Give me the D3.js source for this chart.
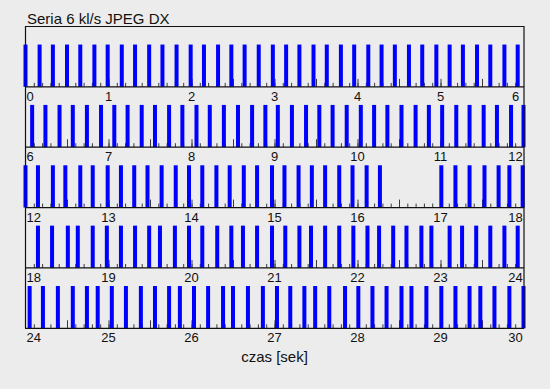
<!DOCTYPE html>
<html>
<head>
<meta charset="utf-8">
<script src="https://cdn.jsdelivr.net/npm/d3@7"></script>
<style>
  body { margin: 0; background: #ececec; }
  svg { display: block; font-family: "Liberation Sans", Arial, sans-serif; }
</style>
</head>
<body>
<div id="chart"></div>
<script>
const title = 'Seria 6 kl/s JPEG DX';
const xTitle = 'czas [sek]';

// one row = 6 seconds
const rowStarts = [0, 6, 12, 18, 24];
const rowSpan = 6;

// frame times in seconds
const frames0 = [0.00, 0.17, 0.33, 0.50, 0.66, 0.83, 0.99, 1.16, 1.32, 1.49, 1.65, 1.82,
  1.99, 2.15, 2.32, 2.48, 2.64, 2.81, 2.98, 3.14, 3.30, 3.47, 3.63, 3.80, 3.96, 4.13,
  4.29, 4.45, 4.62, 4.78, 4.95, 5.11, 5.27, 5.44, 5.60, 5.77, 5.93];
const frames1 = [6.08, 6.24, 6.41, 6.57, 6.74, 6.91, 7.07, 7.23, 7.40, 7.56, 7.73, 7.89,
  8.06, 8.22, 8.39, 8.56, 8.73, 8.89, 9.04, 9.21, 9.38, 9.54, 9.70, 9.87, 10.04, 10.20,
  10.36, 10.53, 10.70, 10.86, 11.02, 11.19, 11.35, 11.52, 11.68, 11.85, 12.00];
const frames2 = [12.00, 12.15, 12.33, 12.48, 12.66, 12.81, 12.99, 13.15, 13.31, 13.47,
  13.64, 13.81, 13.97, 14.13, 14.30, 14.46, 14.63, 14.79, 14.97, 15.12, 15.29, 15.45,
  15.61, 15.78, 15.94, 16.11, 16.27, 17.01, 17.18, 17.35, 17.53, 17.70, 17.83, 17.99];
const frames3 = [18.15, 18.32, 18.51, 18.63, 18.81, 18.98, 19.15, 19.32, 19.49, 19.62,
  19.80, 19.97, 20.13, 20.31, 20.48, 20.62, 20.79, 20.97, 21.13, 21.30, 21.44, 21.61,
  21.78, 21.95, 22.12, 22.26, 22.43, 22.59, 22.77, 22.89, 23.11, 23.26, 23.43, 23.60,
  23.77, 23.93];
const frames4 = [24.05, 24.21, 24.39, 24.57, 24.74, 24.87, 25.04, 25.21, 25.39, 25.56,
  25.73, 25.86, 26.03, 26.20, 26.38, 26.50, 26.68, 26.86, 27.03, 27.19, 27.36, 27.49,
  27.66, 27.85, 28.01, 28.18, 28.35, 28.53, 28.65, 28.83, 29.01, 29.18, 29.35, 29.48,
  29.65, 29.83, 30.00];
const frameRows = [frames0, frames1, frames2, frames3, frames4];

const width = 550;
const height = 389;
const plotLeft = 25.5, plotRight = 523.5, plotTop = 26.5, plotBottom = 328.3;
const barHeight = 42.3;
const barWidth = 4;

const svg = d3.select('#chart')
    .append('svg')
    .attr('width', width)
    .attr('height', height);

svg.append('rect')
    .attr('width', width)
    .attr('height', height)
    .attr('fill', '#ececec');

const rowScale = d3.scaleLinear()
    .domain([0, rowStarts.length])
    .range([plotTop, plotBottom]);

rowStarts.forEach((start, r) => {
    const x = d3.scaleLinear()
        .domain([start, start + rowSpan])
        .range([plotLeft, plotRight]);
    const base = rowScale(r + 1);
    const y = d3.scaleLinear()
        .domain([0, 1])
        .range([base, base - barHeight]);

    const row = svg.append('g');

    // minor ticks every 0.1 s, bigger every 0.5 s
    const minor = d3.range(1, rowSpan * 10).map(i => start + i / 10);
    const major = d3.range(1, rowSpan * 2).map(i => start + i / 2);

    row.append('g')
        .attr('transform', `translate(0,${base})`)
        .call(d3.axisTop(x).tickValues(minor).tickSize(4).tickFormat(''))
        .call(g => g.select('.domain').remove())
        .call(g => g.selectAll('line').attr('stroke', '#3a3a3a'));

    row.append('g')
        .attr('transform', `translate(0,${base})`)
        .call(d3.axisTop(x).tickValues(major).tickSize(8).tickFormat(''))
        .call(g => g.select('.domain').remove())
        .call(g => g.selectAll('line').attr('stroke', '#3a3a3a'));

    row.selectAll('.bar')
        .data(frameRows[r])
        .enter()
        .append('rect')
        .attr('class', 'bar')
        .attr('x', d => x(d) - barWidth / 2)
        .attr('width', barWidth)
        .attr('y', y(1))
        .attr('height', y(0) - y(1))
        .attr('fill', '#0000ff');

    // baseline
    row.append('line')
        .attr('x1', plotLeft - 0.5)
        .attr('x2', plotRight + 0.5)
        .attr('y1', base)
        .attr('y2', base)
        .attr('stroke', '#111')
        .attr('stroke-width', 1.2);

    // second labels
    const secs = d3.range(start, start + rowSpan + 1);
    row.selectAll('.lab')
        .data(secs)
        .enter()
        .append('text')
        .attr('class', 'lab')
        .attr('x', (d, i) => i === 0 ? plotLeft + 1 : (i === secs.length - 1 ? plotRight - 8 : x(d)))
        .attr('y', base + 14)
        .attr('text-anchor', (d, i) => i === 0 ? 'start' : 'middle')
        .attr('font-size', 13)
        .attr('fill', '#111')
        .text(d => d);
});

// frame: top and sides
svg.append('path')
    .attr('d', `M${plotLeft},${plotBottom}V${plotTop}H${plotRight + 0.5}V${plotBottom}`)
    .attr('fill', 'none')
    .attr('stroke', '#111')
    .attr('stroke-width', 1.2);

svg.append('text')
    .attr('x', 27)
    .attr('y', 24)
    .attr('font-size', 15)
    .attr('fill', '#111')
    .text(title);

svg.append('text')
    .attr('x', (plotLeft + plotRight) / 2)
    .attr('y', 362)
    .attr('text-anchor', 'middle')
    .attr('font-size', 15)
    .attr('fill', '#111')
    .text(xTitle);
</script>
</body>
</html>
